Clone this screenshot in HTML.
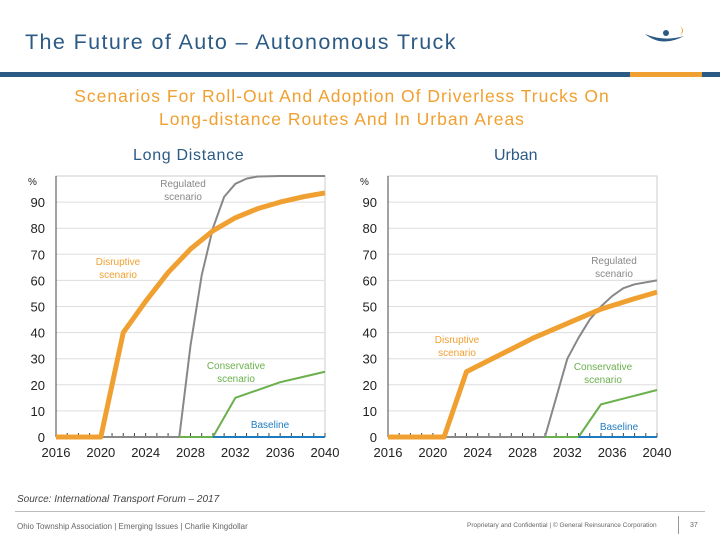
<!DOCTYPE html>
<html><head><meta charset="utf-8"><style>
body{margin:0;width:720px;height:540px;overflow:hidden;background:#fff;font-family:"Liberation Sans",sans-serif;position:relative}
.t{position:absolute;white-space:nowrap}
</style></head><body>
<div class="t" style="left:25px;top:30px;font-size:21.5px;letter-spacing:1.4px;color:#2b5a84">The Future of Auto – Autonomous Truck</div>
<svg style="position:absolute;left:640px;top:22px" width="50" height="30"><path d="M5 12 Q22 26 44 14 Q24 20 5 12Z" fill="#2b5a84"/><circle cx="26" cy="11" r="3" fill="#2b5a84"/><path d="M40 4 Q46 8 40 14 Q44 8 40 4Z" fill="#f0a030"/></svg>
<div style="position:absolute;left:0;top:72px;width:720px;height:5px;background:#2b5a84"></div>
<div style="position:absolute;left:630px;top:72px;width:72px;height:5px;background:#f0a030"></div>
<div class="t" style="left:0;width:684px;top:85px;text-align:center;font-size:17.5px;letter-spacing:1px;line-height:23px;color:#f0a030">Scenarios For Roll-Out And Adoption Of Driverless Trucks On<br>Long-distance Routes And In Urban Areas</div>
<div class="t" style="left:133px;top:147px;font-size:16px;letter-spacing:0.7px;color:#2b5a84">Long Distance</div>
<div class="t" style="left:494px;top:147px;font-size:16px;color:#2b5a84">Urban</div>
<svg id="c" width="720" height="540" style="position:absolute;left:0;top:0"></svg>
<div class="t" style="left:17px;top:494px;font-size:10px;font-style:italic;color:#444">Source: International Transport Forum – 2017</div>
<div style="position:absolute;left:15px;top:511px;width:690px;height:1px;background:#bbb"></div>
<div class="t" style="left:17px;top:522px;font-size:8px;color:#666">Ohio Township Association | Emerging Issues | Charlie Kingdollar</div>
<div class="t" style="left:467px;top:522px;font-size:6.5px;color:#666">Proprietary and Confidential | © General Reinsurance Corporation</div>
<div style="position:absolute;left:678px;top:516px;width:1px;height:18px;background:#999"></div>
<div class="t" style="left:690px;top:522px;font-size:7px;color:#666">37</div>
<script>
const years=[2016,2020,2024,2028,2032,2036,2040];
const yTicks=[0,10,20,30,40,50,60,70,80,90];
// Long distance
const ldDisrX=[2016,2020,2022,2024,2026,2028,2030,2032,2034,2036,2038,2040];
const ldDisrY=[0,0,40,52,63,72,79,84,87.5,90,92,93.5];
const ldRegX=[2020,2027,2028,2029,2030,2031,2032,2033,2034,2036,2040];
const ldRegY=[0,0,35,62,80,92,97,99,99.8,100,100];
const ldConsX=[2027,2030,2032,2034,2036,2038,2040];
const ldConsY=[0,0,15,18,21,23,25];
const ldBaseX=[2030,2040];
const ldBaseY=[0,0];
// Urban
const urDisrX=[2016,2021,2023,2026,2029,2032,2035,2038,2040];
const urDisrY=[0,0,25,31.5,38,43.5,49,53,55.5];
const urRegX=[2021,2030,2031,2032,2033,2034,2035,2036,2037,2038,2040];
const urRegY=[0,0,15,30,38,45,50,54,57,58.5,60];
const urConsX=[2030,2033,2035,2040];
const urConsY=[0,0,12.5,18];
const urBaseX=[2033,2040];
const urBaseY=[0,0];
const NS='http://www.w3.org/2000/svg',svg=document.getElementById('c');
function mk(t,a,p){const e=document.createElementNS(NS,t);for(const k in a)e.setAttribute(k,a[k]);(p||svg).appendChild(e);return e;}
function chart(x0,x1,name,series,labels){
 const g=mk('g',{});
 
 
 const X=v=>x0+(v-2016)/24*(x1-x0), Y=v=>437-v*2.61;
 mk('rect',{x:x0,y:176,width:x1-x0,height:261,fill:'none',stroke:'#ccc'},g);
 yTicks.forEach(v=>{if(v>0){const l=mk('line',{x1:x0,x2:x1,y1:Y(v),y2:Y(v),stroke:'#ddd'},g);}
  const t=mk('text',{x:x0-11,y:Y(v)+5,'text-anchor':'end','font-size':13,fill:'#222'},g);t.textContent=v;
  });
 const p=mk('text',{x:x0-28,y:185,'font-size':10,fill:'#222'},g);p.textContent='%';
 
 mk('line',{x1:x0,x2:x0,y1:176,y2:437,stroke:'#444'},g);
 mk('line',{x1:x0,x2:x1,y1:437,y2:437,stroke:'#444'},g);
 for(let y=2016;y<=2040;y++){mk('line',{x1:X(y),x2:X(y),y1:437,y2:433,stroke:'#444'},g);}
 years.forEach(y=>{const t=mk('text',{x:X(y),y:457,'text-anchor':'middle','font-size':13,fill:'#222'},g);t.textContent=y;
  });
 series.forEach(s=>{const l=mk('polyline',{points:s.x.map((v,i)=>X(v)+','+Y(s.y[i])).join(' '),fill:'none',stroke:s.c,'stroke-width':s.w,'stroke-linejoin':'round'},g);
  });
 labels.forEach(L=>{const t=mk('text',{x:L[0],y:L[1],'text-anchor':'middle','font-size':10,fill:L[3]},g);
  
  L[2].split('|').forEach((s,i)=>{const ts=mk('tspan',{x:L[0],dy:i?13:0},t);ts.textContent=s;});});
}
chart(56,325,'long-distance-chart',[
 {x:ldRegX,y:ldRegY,c:'#888',w:2,n:'regulated-line'},
 {x:ldConsX,y:ldConsY,c:'#6ab04c',w:2,n:'conservative-line'},
 {x:ldBaseX,y:ldBaseY,c:'#1f7bc0',w:2,n:'baseline-line'},
 {x:ldDisrX,y:ldDisrY,c:'#f0a030',w:5,n:'disruptive-line'}],
 [[183,187,'Regulated|scenario','#888'],[118,265,'Disruptive|scenario','#f0a030'],[236,369,'Conservative|scenario','#6ab04c'],[270,428,'Baseline','#1f7bc0']]);
chart(388,657,'urban-chart',[
 {x:urRegX,y:urRegY,c:'#888',w:2,n:'regulated-line'},
 {x:urConsX,y:urConsY,c:'#6ab04c',w:2,n:'conservative-line'},
 {x:urBaseX,y:urBaseY,c:'#1f7bc0',w:2,n:'baseline-line'},
 {x:urDisrX,y:urDisrY,c:'#f0a030',w:5,n:'disruptive-line'}],
 [[614,264,'Regulated|scenario','#888'],[457,343,'Disruptive|scenario','#f0a030'],[603,370,'Conservative|scenario','#6ab04c'],[619,430,'Baseline','#1f7bc0']]);
</script>
</body></html>
